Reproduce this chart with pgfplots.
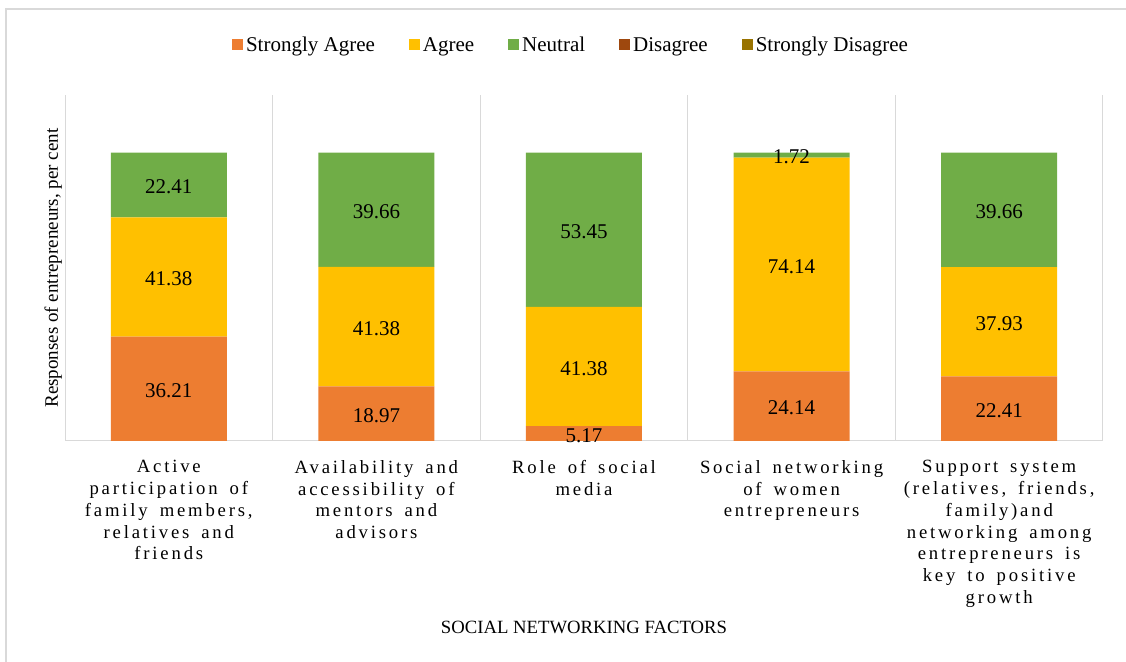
\documentclass[border=0pt]{standalone}
\usepackage{pgfplots}
\pgfplotsset{compat=1.18}
\usepackage{fontspec}
\setmainfont{Liberation Serif}
\newfontfamily\spaced[LetterSpace=15, WordSpace=1.6]{Liberation Serif}
\definecolor{cSA}{HTML}{ED7D31}
\definecolor{cA}{HTML}{FFC000}
\definecolor{cN}{HTML}{70AD47}
\definecolor{cD}{HTML}{9E480E}
\definecolor{cSD}{HTML}{997300}
\definecolor{gridc}{HTML}{D9D9D9}
\begin{document}
\begin{tikzpicture}[x=1pt,y=1pt]
\useasboundingbox (0,0) rectangle (1126,661);
\draw[gridc, line width=1.2pt] (6,-10) -- (6,652) -- (1140,652);
\begin{axis}[
  at={(65pt,220pt)}, anchor=south west,
  scale only axis, width=1038pt, height=346pt,
  ybar stacked, bar width=116pt,
  xmin=-0.5, xmax=4.5, ymin=0, ymax=120,
  axis line style={draw=none},
  xtick={0,1,2,3,4}, ytick=\empty,
  major tick length=0pt, minor tick length=0pt,
  minor xtick={-0.5,0.5,1.5,2.5,3.5,4.5},
  xminorgrids, minor grid style={gridc, line width=1pt},
  extra y ticks={0}, extra y tick labels={},
  extra y tick style={grid=major, major grid style={gridc, line width=1pt}},
  xticklabels={
    {Active\\participation of\\family members,\\relatives and\\friends},
    {Availability and\\accessibility of\\mentors and\\advisors},
    {Role of social\\media},
    {Social networking\\of women\\entrepreneurs},
    {Support system\\(relatives, friends,\\family)and\\networking among\\entrepreneurs is\\key to positive\\growth}},
  xticklabel style={font=\spaced\fontsize{18.7}{21.7}\selectfont, align=center, anchor=north, yshift=-16pt},
  xlabel={SOCIAL NETWORKING FACTORS},
  xlabel style={at={(axis description cs:0.5,0)}, anchor=center, yshift=-186pt, font=\fontsize{18.7}{22}\selectfont},
  ylabel={Responses of entrepreneurs, per cent},
  ylabel style={at={(axis description cs:0,0.5)}, anchor=south, inner sep=3pt, font=\fontsize{19}{22}\selectfont},
  legend columns=5,
  legend style={at={(axis description cs:0.4875,1.1445)}, anchor=center, draw=none, fill=none,
    font=\fontsize{21}{24}\selectfont,
    /tikz/every even column/.append style={column sep=32pt},
    /tikz/every odd column/.append style={column sep=1pt}},
  legend image code/.code={\fill[#1] (0pt,-5.5pt) rectangle (11pt,5.5pt);},
]
\addplot[fill=cSA, draw=none] coordinates {(0,36.21) (1,18.97) (2,5.17) (3,24.14) (4,22.41)};
\addplot[fill=cA, draw=none] coordinates {(0,41.38) (1,41.38) (2,41.38) (3,74.14) (4,37.93)};
\addplot[fill=cN, draw=none] coordinates {(0,22.41) (1,39.66) (2,53.45) (3,1.72) (4,39.66)};
\addplot[fill=cD, draw=none] coordinates {(0,0) (1,0) (2,0) (3,0) (4,0)};
\addplot[fill=cSD, draw=none] coordinates {(0,0) (1,0) (2,0) (3,0) (4,0)};
\legend{Strongly Agree, Agree, Neutral, Disagree, Strongly Disagree}
\end{axis}
\begin{axis}[
  at={(65pt,220pt)}, anchor=south west,
  scale only axis, width=1038pt, height=346pt,
  xmin=-0.5, xmax=4.5, ymin=0, ymax=120,
  hide axis,
]
\addplot[draw=none, mark=none, nodes near coords, point meta=explicit symbolic,
  nodes near coords align={anchor=center},
  every node near coord/.append style={font=\fontsize{21}{24}\selectfont, text=black, inner sep=0pt, yshift=-2pt}]
  coordinates {
  (0,18.105)[36.21] (0,56.9)[41.38] (0,88.795)[22.41]
  (1,9.485)[18.97] (1,39.66)[41.38] (1,80.18)[39.66]
  (2,2.585)[5.17] (2,25.86)[41.38] (2,73.275)[53.45]
  (3,12.07)[24.14] (3,61.21)[74.14] (3,99.14)[1.72]
  (4,11.205)[22.41] (4,41.375)[37.93] (4,80.17)[39.66]
  };
\end{axis}
\end{tikzpicture}
\end{document}
